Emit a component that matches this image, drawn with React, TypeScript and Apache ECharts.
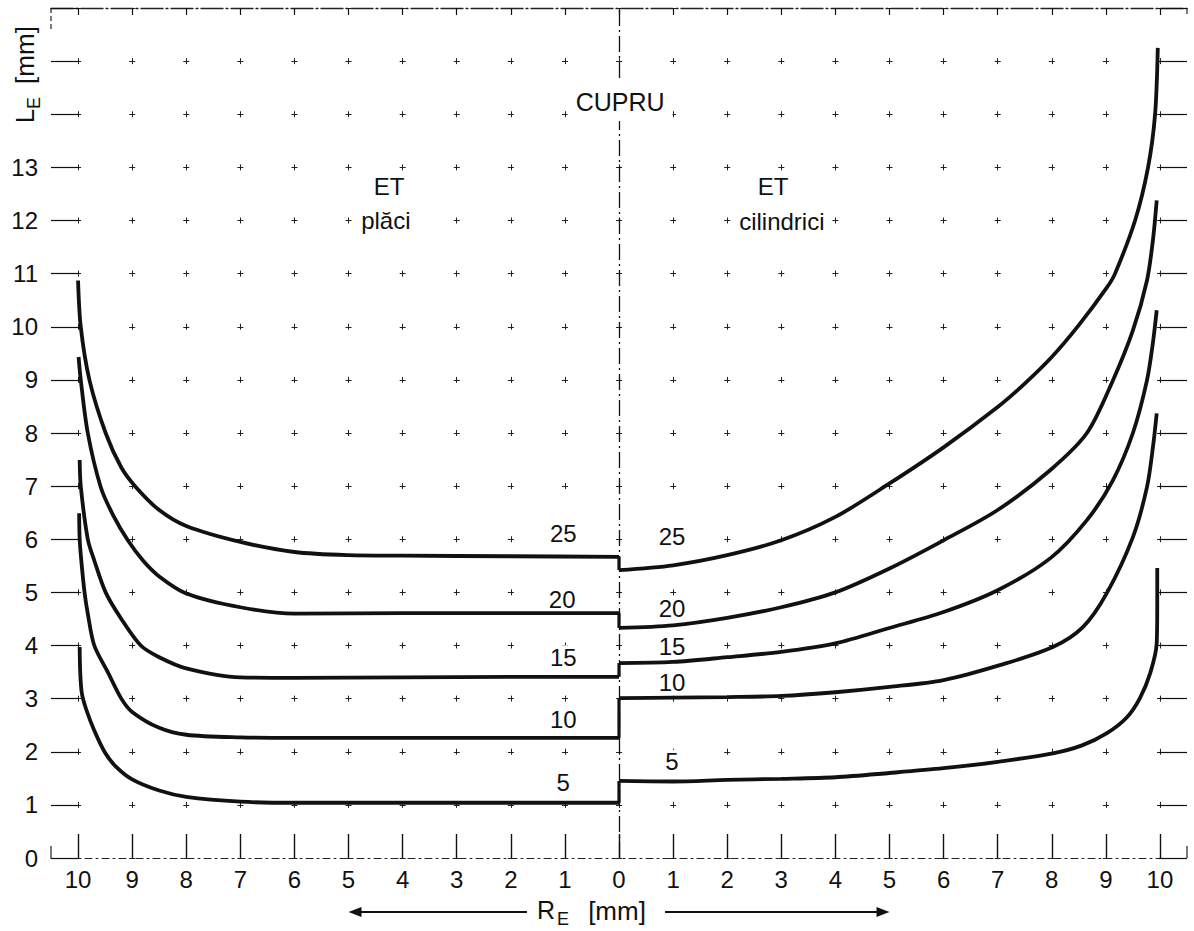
import React, { useEffect, useRef } from "react";
import * as echarts from "echarts";

// ---------- data ----------
const X_TICKS = [-10, -9, -8, -7, -6, -5, -4, -3, -2, -1, 0, 1, 2, 3, 4, 5, 6, 7, 8, 9, 10];
const Y_LABEL_MAX = 13;
const PARAMS = ["5", "10", "15", "20", "25"];

// ET plăci (left half) : [R_E (mm), L_E (mm)]
const PLATE_5 = [[0, 1.04], [1, 1.04], [2, 1.04], [3, 1.04], [4, 1.04], [5, 1.04], [6, 1.04], [7, 1.06], [8, 1.15], [8.5, 1.27], [9, 1.48], [9.3, 1.72], [9.5, 1.98], [9.7, 2.4], [9.85, 2.8], [9.93, 3.1], [9.96, 3.5], [9.97, 3.97]];
const PLATE_10 = [[0, 2.26], [2, 2.26], [4, 2.26], [6, 2.26], [7, 2.27], [8, 2.32], [8.5, 2.45], [9, 2.75], [9.2, 3.0], [9.45, 3.5], [9.7, 4.0], [9.82, 4.6], [9.88, 5.0], [9.94, 5.6], [9.97, 6.0], [9.98, 6.49]];
const PLATE_15 = [[0, 3.41], [2, 3.41], [4, 3.4], [6, 3.39], [7, 3.4], [8, 3.57], [8.5, 3.78], [8.84, 4.0], [9.2, 4.5], [9.49, 5.0], [9.7, 5.6], [9.82, 6.0], [9.95, 7.0], [9.97, 7.49]];
const PLATE_20 = [[0, 4.61], [2, 4.61], [4, 4.61], [6, 4.6], [7, 4.72], [8, 4.98], [8.5, 5.3], [8.8, 5.6], [9.08, 5.98], [9.35, 6.45], [9.58, 6.98], [9.82, 8.0], [9.95, 9.0], [9.99, 9.43]];
const PLATE_25 = [[0, 5.67], [2, 5.68], [4, 5.69], [5, 5.7], [6, 5.76], [7, 5.95], [8, 6.25], [8.5, 6.55], [8.93, 6.98], [9.2, 7.35], [9.49, 8.0], [9.79, 9.0], [9.95, 10.0], [10, 10.87]];

// ET cilindrici (right half) : [R_E (mm), L_E (mm)]
const CYL_5 = [[0, 1.45], [1, 1.44], [2, 1.47], [3, 1.49], [4, 1.52], [5, 1.6], [6, 1.69], [7, 1.81], [8.02, 1.97], [8.56, 2.12], [9.02, 2.35], [9.39, 2.65], [9.63, 3.01], [9.82, 3.48], [9.94, 4.04], [9.95, 4.8], [9.95, 5.46]];
const CYL_10 = [[0, 3.01], [1, 3.02], [2, 3.03], [3, 3.05], [4, 3.12], [5, 3.22], [6, 3.35], [7.04, 3.63], [8.02, 3.97], [8.58, 4.35], [9.02, 4.99], [9.5, 6.04], [9.76, 6.98], [9.87, 7.73], [9.94, 8.37]];
const CYL_15 = [[0, 3.67], [1, 3.69], [2, 3.78], [3, 3.88], [4, 4.04], [5, 4.33], [6, 4.63], [7, 5.04], [7.97, 5.64], [8.65, 6.36], [9.13, 7.11], [9.5, 8.0], [9.76, 8.99], [9.87, 9.7], [9.94, 10.31]];
const CYL_20 = [[0, 4.33], [1, 4.38], [2, 4.52], [3, 4.72], [4, 5.0], [5, 5.45], [6, 5.98], [7, 6.55], [7.97, 7.3], [8.65, 8.0], [9.13, 8.99], [9.5, 9.93], [9.76, 10.87], [9.87, 11.63], [9.94, 12.38]];
const CYL_25 = [[0, 5.42], [1, 5.51], [2, 5.7], [3, 5.98], [4, 6.42], [5, 7.05], [6, 7.73], [7, 8.49], [7.5, 8.93], [8, 9.43], [8.5, 10.03], [9.02, 10.74], [9.17, 11.0], [9.54, 12.0], [9.78, 13.0], [9.91, 14.0], [9.96, 15.25]];

const PLATE = [PLATE_5, PLATE_10, PLATE_15, PLATE_20, PLATE_25];
const CYL = [CYL_5, CYL_10, CYL_15, CYL_20, CYL_25];

// curve-label anchor points, [R_E, L_E]
const PLATE_LABEL_POS = [[1.03, 1.43], [1.03, 2.6], [1.03, 3.78], [1.05, 4.87], [1.03, 6.1]];
const CYL_LABEL_POS = [[0.98, 1.81], [0.98, 3.31], [0.98, 3.99], [0.98, 4.7], [0.98, 6.06]];

const TITLE = "CUPRU";
const LEFT_TITLE = ["ET", "plăci"];
const RIGHT_TITLE = ["ET", "cilindrici"];

// ---------- layout ----------
const W = 1194;
const H = 931;
const GRID = { left: 51, top: 8, width: 1136, height: 850 };
const X_MIN = -10.5;
const X_MAX = 10.5;
const Y_MIN = 0;
const Y_MAX = 16;
const UX = GRID.width / (X_MAX - X_MIN);
const UY = GRID.height / (Y_MAX - Y_MIN);
const FONT = '"Liberation Sans", Arial, sans-serif';
const INK = "#111";

export default function App() {
  const ref = useRef<HTMLDivElement>(null);

  useEffect(() => {
    if (!ref.current) return;
    const chart = echarts.init(ref.current, null, { renderer: "svg" });

    const curve = {
      type: "line",
      smooth: 0.3,
      symbol: "none",
      lineStyle: { color: INK, width: 3.8 },
      z: 5,
    };
    const lineSeries: any[] = [];
    PARAMS.forEach((p, i) => {
      lineSeries.push({ ...curve, name: "plăci " + p, data: PLATE[i].map(([r, y]) => [-r, y]) });
      lineSeries.push({ ...curve, name: "cilindrici " + p, data: CYL[i].map(([r, y]) => [r, y]) });
      lineSeries.push({
        name: "join " + p,
        type: "line",
        data: [[0, PLATE[i][0][1]], [0, CYL[i][0][1]]],
        symbol: "none",
        lineStyle: { color: INK, width: 3.2 },
        z: 5,
      });
    });
    // central dash-dot axis
    lineSeries[0].markLine = {
      silent: true,
      symbol: ["none", "none"],
      label: { show: false },
      lineStyle: { color: INK, width: 1.3, type: [16, 4, 2, 4] },
      data: [{ xAxis: 0 }],
    };

    const hDash = 6;
    const option: any = {
      animation: false,
      backgroundColor: "#ffffff",
      grid: { left: GRID.left, top: GRID.top, width: GRID.width, height: GRID.height, containLabel: false },
      xAxis: [
        {
          type: "value",
          position: "bottom",
          min: X_MIN,
          max: X_MAX,
          axisLine: { show: true, onZero: false, lineStyle: { color: "#222", width: 1, type: [7, 4, 2, 4] } },
          axisTick: { show: true, inside: true, length: 24, customValues: X_TICKS, lineStyle: { color: INK, width: 1.4 } },
          axisLabel: {
            show: true,
            customValues: X_TICKS,
            formatter: (v: number) => String(Math.abs(v)),
            color: INK,
            fontFamily: FONT,
            fontSize: 24,
            margin: 9,
          },
          splitLine: {
            show: true,
            lineStyle: { color: "#222", width: 1, type: [hDash, UY - hDash], dashOffset: hDash / 2 },
          },
        },
        {
          type: "value",
          position: "top",
          min: X_MIN,
          max: X_MAX,
          axisLine: { show: true, onZero: false, lineStyle: { color: "#222", width: 1.3, type: [22, 3, 2, 3] } },
          axisTick: { show: true, inside: true, length: 7, customValues: X_TICKS, lineStyle: { color: INK, width: 1.2 } },
          axisLabel: { show: false },
          splitLine: { show: false },
        },
      ],
      yAxis: [
        {
          type: "value",
          position: "left",
          min: Y_MIN,
          max: Y_MAX,
          interval: 1,
          axisLine: { show: false, onZero: false },
          axisTick: { show: true, inside: true, length: 28, lineStyle: { color: INK, width: 1.2 } },
          axisLabel: {
            show: true,
            formatter: (v: number) => (v <= Y_LABEL_MAX ? String(v) : ""),
            color: INK,
            fontFamily: FONT,
            fontSize: 24,
            margin: 13,
          },
          splitLine: {
            show: true,
            lineStyle: { color: "#222", width: 1, type: [hDash, UX - hDash], dashOffset: UX - (UX / 2 - hDash / 2) },
          },
        },
        {
          type: "value",
          position: "right",
          min: Y_MIN,
          max: Y_MAX,
          interval: 1,
          axisLine: { show: false, onZero: false },
          axisTick: { show: true, inside: true, length: 28, lineStyle: { color: INK, width: 1.2 } },
          axisLabel: { show: false },
          splitLine: { show: false },
        },
      ],
      series: lineSeries,
    };

    chart.setOption(option);

    const px = (x: number, y: number) =>
      chart.convertToPixel({ xAxisIndex: 0, yAxisIndex: 0 }, [x, y]) as number[];

    const txt = (x: number, y: number, text: string, size: number, bg = true, extra: any = {}) => ({
      type: "text",
      x,
      y,
      z: 3,
      ...extra,
      style: {
        text,
        fill: INK,
        font: `${size}px ${FONT}`,
        align: "center",
        verticalAlign: "middle",
        textAlign: "center",
        textVerticalAlign: "middle",
        backgroundColor: bg ? "#ffffff" : undefined,
        padding: bg ? [0, 4, 0, 4] : 0,
      },
    });

    const g: any[] = [];
    // headings
    const c = px(0.02, 14.24);
    const cupru: any = txt(c[0], c[1], TITLE, 25, true, { z: 20 });
    cupru.style.padding = [6, 8, 8, 8];
    g.push(cupru);
    const l1 = px(-4.25, 12.64);
    const l2 = px(-4.31, 12.0);
    g.push(txt(l1[0], l1[1], LEFT_TITLE[0], 24));
    g.push(txt(l2[0], l2[1], LEFT_TITLE[1], 24));
    const r1 = px(2.85, 12.64);
    const r2 = px(3.01, 11.98);
    g.push(txt(r1[0], r1[1], RIGHT_TITLE[0], 24));
    g.push(txt(r2[0], r2[1], RIGHT_TITLE[1], 24));

    // curve labels
    PARAMS.forEach((p, i) => {
      const a = px(-PLATE_LABEL_POS[i][0], PLATE_LABEL_POS[i][1]);
      g.push(txt(a[0], a[1], p, 24));
      const b = px(CYL_LABEL_POS[i][0], CYL_LABEL_POS[i][1]);
      g.push(txt(b[0], b[1], p, 24));
    });

    // y-axis title L_E [mm] (rotated)
    g.push(txt(25, 116, "L", 26, false, { rotation: Math.PI / 2 }));
    g.push(txt(34, 103, "E", 18, false, { rotation: Math.PI / 2 }));
    g.push(txt(25, 55, "[mm]", 26, false, { rotation: Math.PI / 2 }));

    // x-axis title R_E [mm] with arrows
    const yT = 911;
    const x0 = px(0, 0)[0];
    g.push(txt(x0 - 73, yT - 1, "R", 25, false));
    g.push(txt(x0 - 56, yT + 8, "E", 18, false));
    g.push(txt(x0 - 2, yT, "[mm]", 26, false));
    const aL = px(-5, 0)[0];
    const aR = px(5, 0)[0];
    g.push({ type: "line", z: 20, shape: { x1: aL + 10, y1: yT + 1, x2: x0 - 92, y2: yT + 1 }, style: { stroke: INK, lineWidth: 2.2 } });
    g.push({ type: "polygon", z: 20, shape: { points: [[aL, yT + 1], [aL + 13, yT - 4], [aL + 13, yT + 6]] }, style: { fill: INK } });
    g.push({ type: "line", z: 20, shape: { x1: x0 + 46, y1: yT + 1, x2: aR - 10, y2: yT + 1 }, style: { stroke: INK, lineWidth: 2.2 } });
    g.push({ type: "polygon", z: 20, shape: { points: [[aR, yT + 1], [aR - 13, yT - 4], [aR - 13, yT + 6]] }, style: { fill: INK } });

    // frame corners
    const gl = GRID.left;
    const gr = GRID.left + GRID.width;
    const gt = GRID.top;
    const gb = GRID.top + GRID.height;
    const cornerStyle = { stroke: "#222", lineWidth: 1.2 };
    g.push({ type: "line", z: 4, shape: { x1: gl, y1: gt, x2: gl, y2: gt + 22 }, style: { ...cornerStyle, lineDash: [5, 3] } });
    g.push({ type: "line", z: 4, shape: { x1: gr, y1: gt, x2: gr, y2: gt + 6 }, style: cornerStyle });
    g.push({ type: "line", z: 4, shape: { x1: gl, y1: gb - 12, x2: gl, y2: gb }, style: cornerStyle });
    g.push({ type: "line", z: 4, shape: { x1: gr, y1: gb - 12, x2: gr, y2: gb }, style: cornerStyle });

    chart.setOption({ graphic: g });

    return () => {
      chart.dispose();
    };
  }, []);

  return (
    <div
      ref={ref}
      style={{ position: "fixed", left: 0, top: 0, width: W, height: H, background: "#fff" }}
    />
  );
}
